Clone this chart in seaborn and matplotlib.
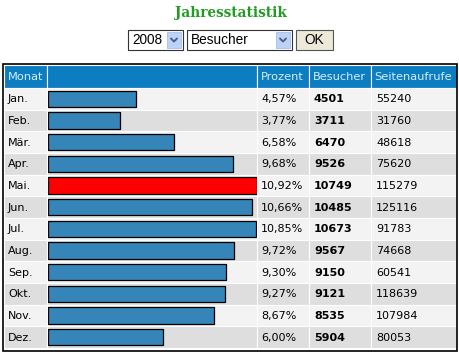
import matplotlib
matplotlib.use('Agg')
import matplotlib.pyplot as plt
from matplotlib.patches import Rectangle
import pandas as pd
import seaborn as sns

months = ['Jan.', 'Feb.', 'Mär.', 'Apr.', 'Mai.', 'Jun.', 'Jul.', 'Aug.', 'Sep.', 'Okt.', 'Nov.', 'Dez.']
prozent = ['4,57%', '3,77%', '6,58%', '9,68%', '10,92%', '10,66%', '10,85%', '9,72%', '9,30%', '9,27%', '8,67%', '6,00%']
besucher = [4501, 3711, 6470, 9526, 10749, 10485, 10673, 9567, 9150, 9121, 8535, 5904]
seitenaufrufe = [55240, 31760, 48618, 75620, 115279, 125116, 91783, 74668, 60541, 118639, 107984, 80053]
headers = ['Monat', '', 'Prozent', 'Besucher', 'Seitenaufrufe']

sns.set_style('white')
plt.rcParams['font.family'] = ['DejaVu Sans']

W, H = 460, 353
fig = plt.figure(figsize=(W / 100, H / 100), dpi=100)
fig.patch.set_facecolor('white')

# background axes in pixel coordinates
bg = fig.add_axes([0, 0, 1, 1])
bg.set_xlim(0, W)
bg.set_ylim(H, 0)
bg.axis('off')

# title
bg.text(231, 13, 'Jahresstatistik', ha='center', va='center', fontsize=9.8,
        fontweight='bold', family='DejaVu Serif', color='#239b23')

# form controls
def select_box(x0, x1, label):
    bg.add_patch(Rectangle((x0, 30), x1 - x0, 20, facecolor='white', edgecolor='#333333', lw=0.8))
    bg.add_patch(Rectangle((x1 - 16, 32), 14, 16, facecolor='#bcd2f7', edgecolor='#a9bfe6', lw=0.6))
    cx = x1 - 9
    bg.plot([cx - 3, cx, cx + 3], [38.5, 41.5, 38.5], color='#4d6185', lw=1.4)
    bg.text(x0 + 4, 40.5, label, ha='left', va='center', fontsize=9.8,
            family='Liberation Sans', color='black')

select_box(128, 183, '2008')
select_box(187, 292, 'Besucher')
bg.add_patch(Rectangle((296, 30), 37, 20, facecolor='#ece9d8', edgecolor='#555555', lw=0.8))
bg.text(314.5, 40.5, 'OK', ha='center', va='center', fontsize=9.8,
        family='Liberation Sans', color='black')

# table geometry
col_x = [4, 47, 257, 309, 371, 457]
head_top, head_bot = 65, 87.5
row_top = 88
row_h = (348 - row_top) / len(months)

bg.add_patch(Rectangle((3, 63.5), 454.5, 287, facecolor='none', edgecolor='black', lw=1.2, zorder=5))

for j, name in enumerate(headers):
    bg.add_patch(Rectangle((col_x[j], head_top), col_x[j + 1] - col_x[j], head_bot - head_top,
                           facecolor='#0b7dc0', edgecolor='white', lw=0.8))
    if name:
        bg.text(col_x[j] + 3.5, (head_top + head_bot) / 2 + 0.5, name, ha='left', va='center',
                fontsize=8.2, color='#d4efff')

for i, m in enumerate(months):
    y0 = row_top + i * row_h
    shade = '#f3f3f3' if i % 2 == 0 else '#dedede'
    for j in range(5):
        bg.add_patch(Rectangle((col_x[j], y0), col_x[j + 1] - col_x[j], row_h,
                               facecolor=shade, edgecolor='white', lw=0.8))
    yc = y0 + row_h / 2 + 0.5
    bg.text(col_x[0] + 4, yc, m, ha='left', va='center', fontsize=8, color='black')
    bg.text(col_x[2] + 4, yc, prozent[i], ha='left', va='center', fontsize=8, color='black')
    bg.text(col_x[3] + 5, yc, str(besucher[i]), ha='left', va='center', fontsize=8,
            fontweight='bold', color='black')
    bg.text(col_x[4] + 5, yc, str(seitenaufrufe[i]), ha='left', va='center', fontsize=8, color='black')

# bar column
ax = fig.add_axes([48 / W, (H - 348) / H, 209 / W, (348 - row_top) / H])
ax.patch.set_alpha(0)
df = pd.DataFrame({'Monat': months, 'Besucher': besucher})
top = months[besucher.index(max(besucher))]
palette = {m: ('#ff0000' if m == top else '#3585b8') for m in months}
sns.barplot(data=df, x='Besucher', y='Monat', hue='Monat', palette=palette, legend=False,
            orient='h', width=0.74, edgecolor='black', linewidth=0.9, saturation=1, ax=ax)
ax.set_xlim(0, max(besucher))
ax.set_ylim(len(months) - 0.5, -0.5)
ax.axis('off')

fig.savefig('out.png', dpi=100)
